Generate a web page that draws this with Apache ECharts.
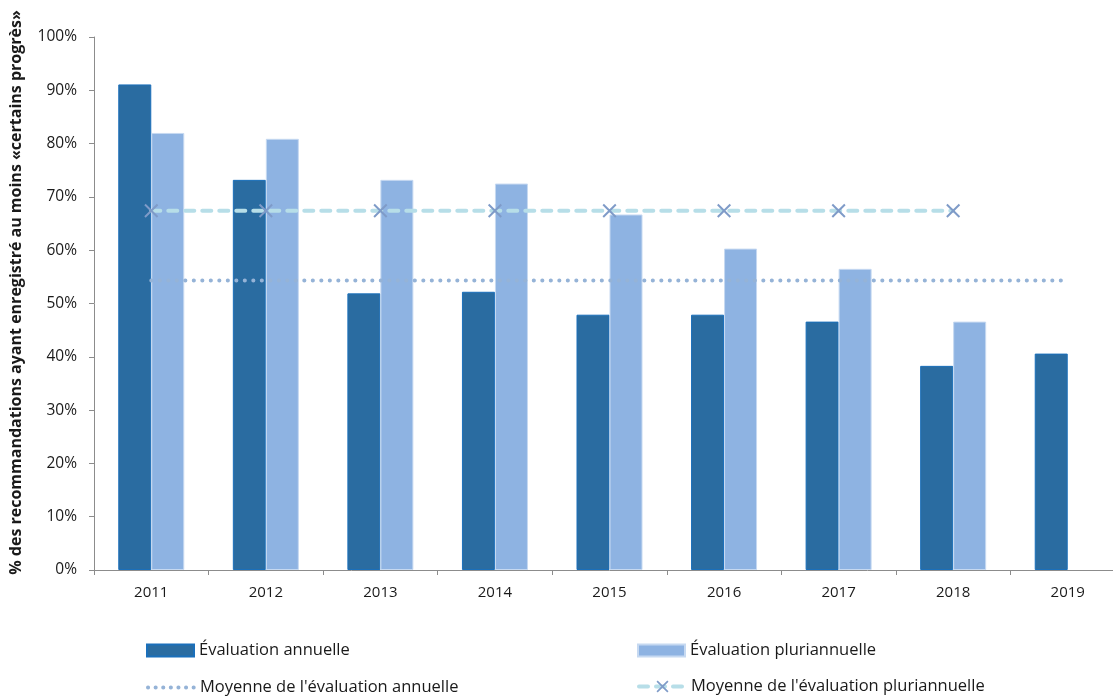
<!DOCTYPE html>
<html>
<head>
<meta charset="utf-8">
<script src="https://cdn.jsdelivr.net/npm/echarts@6/dist/echarts.min.js"></script>
<style>
html,body{margin:0;padding:0;background:#fff;overflow:hidden;}
#chart{width:1125px;height:697px;}
</style>
</head>
<body>
<div id="chart"></div>
<script>
const categories = ['2011','2012','2013','2014','2015','2016','2017','2018','2019'];
const annual = [91.1, 73.2, 51.9, 52.2, 47.9, 47.9, 46.6, 38.3, 40.6];
const pluriannual = [82.0, 80.9, 73.2, 72.5, 66.7, 60.3, 56.5, 46.6, null];
const meanAnnual = [54.3, 54.3, 54.3, 54.3, 54.3, 54.3, 54.3, 54.3, 54.3];
const meanPluri = [67.4, 67.4, 67.4, 67.4, 67.4, 67.4, 67.4, 67.4, null];
const yTicks = [0, 10, 20, 30, 40, 50, 60, 70, 80, 90, 100];

const names = ['Évaluation annuelle', 'Évaluation pluriannuelle',
  "Moyenne de l'évaluation annuelle", "Moyenne de l'évaluation pluriannuelle"];

const font = 'Open Sans';
const legendFont = 'Open Sans';
const xSymbol = 'path://M0,1 L1,0 L10,9 L9,10 Z M9,0 L10,1 L1,10 L0,9 Z';

const dotStyle = {color: '#95B3D7', width: 4, type: [0.1, 8.4], cap: 'round'};
const dashStyle = {color: '#B7DEE8', width: 4, type: [9, 8], cap: 'round'};

const chart = echarts.init(document.getElementById('chart'), null, {renderer: 'canvas'});

function legendAt(item, left, top, icon, h) {
  const l = {
    data: [item], left: left, top: top, orient: 'horizontal',
    itemWidth: 47, itemHeight: h || 12, itemGap: 0, padding: 0,
    textStyle: {fontFamily: legendFont, fontSize: 16.5, color: '#1a1a1a'},
    selectedMode: false
  };
  if (icon) l.icon = icon;
  return l;
}

chart.setOption({
  animation: false,
  backgroundColor: '#fff',
  grid: {left: 94, right: 0, top: 37, bottom: 127, containLabel: false},
  legend: [
    legendAt(names[0], 146, 642, 'rect'),
    legendAt(names[1], 637, 642, 'rect'),
    legendAt({name: names[2], itemStyle: {opacity: 0}, lineStyle: {width: 4, type: [0.1, 7.5], cap: 'round', color: '#95B3D7'}}, 146, 679),
    legendAt({name: names[3], lineStyle: {width: 4, type: [9, 8], cap: 'round', color: '#B7DEE8'}}, 637, 678, null, 15)
  ],
  xAxis: {
    type: 'category',
    data: categories,
    boundaryGap: true,
    axisLine: {lineStyle: {color: '#8c8c8c', width: 1}},
    axisTick: {show: true, inside: false, length: 5, alignWithLabel: false, lineStyle: {color: '#8c8c8c'}},
    axisLabel: {fontFamily: font, fontSize: 15, color: '#1a1a1a', margin: 15}
  },
  yAxis: {
    type: 'value',
    min: yTicks[0], max: yTicks[yTicks.length - 1], interval: 10,
    name: '% des recommandations ayant enregistré au moins «certains progrès»',
    nameLocation: 'middle',
    nameRotate: 90,
    nameGap: 70,
    nameTextStyle: {fontFamily: font, fontSize: 16, fontWeight: 'bold', color: '#1a1a1a', padding: [0, 0, 0, 22]},
    axisLine: {show: true, lineStyle: {color: '#8c8c8c', width: 1}},
    axisTick: {show: true, inside: false, length: 5, lineStyle: {color: '#8c8c8c'}},
    splitLine: {show: false},
    axisLabel: {fontFamily: font, fontSize: 15.5, color: '#1a1a1a', margin: 17,
      formatter: v => v + '%'}
  },
  series: [
    {
      name: names[0], type: 'bar', data: annual,
      barWidth: 33, barGap: '0%',
      itemStyle: {color: '#2A6CA1', borderColor: '#1A6FBA', borderWidth: 1}
    },
    {
      name: names[1], type: 'bar', data: pluriannual,
      barWidth: 33, barGap: '0%',
      itemStyle: {color: '#8EB3E2', borderColor: '#C6D9F1', borderWidth: 1}
    },
    {
      name: names[2], type: 'line', data: meanAnnual,
      symbol: 'none', z: 5,
      lineStyle: dotStyle,
      itemStyle: {color: '#95B3D7'}
    },
    {
      name: names[3], type: 'line', data: meanPluri,
      symbol: xSymbol, symbolSize: 14, showAllSymbol: true, z: 6,
      lineStyle: dashStyle,
      itemStyle: {color: '#7F9BC8'}
    }
  ]
});
</script>
</body>
</html>
